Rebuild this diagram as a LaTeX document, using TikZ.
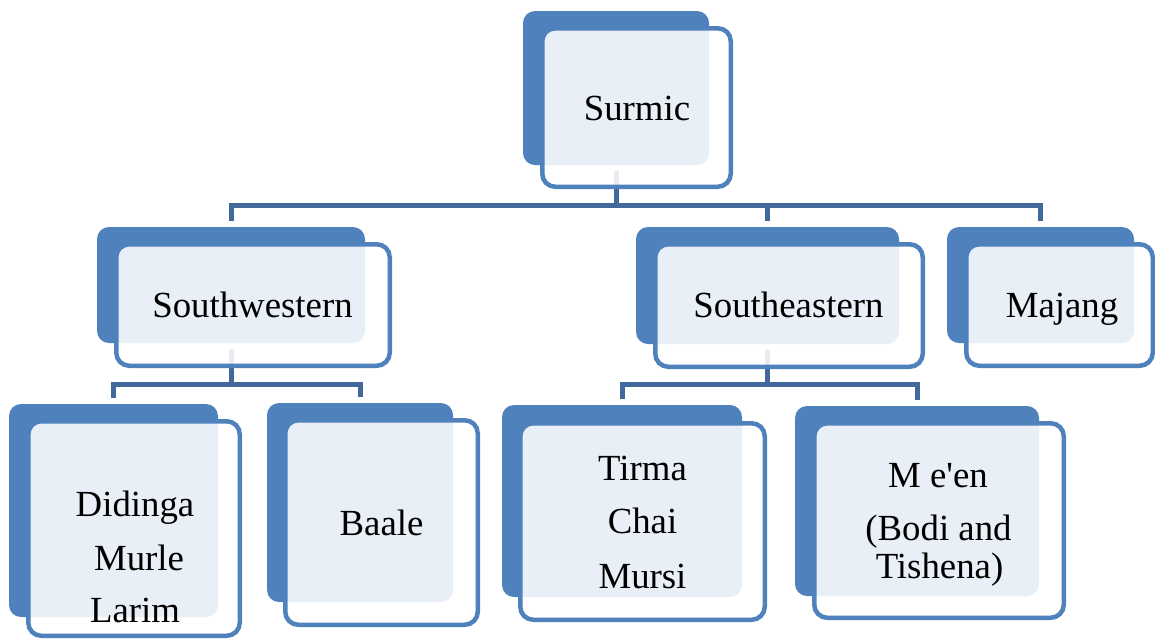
\documentclass[tikz,border=0pt]{standalone}
\usepackage{fontspec}
\newfontfamily\tnr{Liberation Serif}
\definecolor{boxblue}{HTML}{4F81BD}
\definecolor{linkblue}{HTML}{41699B}
\begin{document}
\begin{tikzpicture}[x=1pt,y=-1pt,
  backbox/.style={fill=boxblue, draw=none, rounded corners=12pt, inner sep=0pt},
  frontbox/.style={fill=white, fill opacity=0.88, draw=boxblue, draw opacity=1, line width=4.5pt, rounded corners=13pt, inner sep=0pt},
  lbl/.style={font=\tnr\fontsize{36.8}{44}\selectfont, inner sep=0pt, anchor=base, text opacity=1},
  conn/.style={draw=linkblue, line width=5pt}]
\useasboundingbox (0,0) rectangle (1155,641);
% bus levels
\coordinate (bus1) at (0,205.5);
\coordinate (bus2) at (0,384);
% back boxes
\node[backbox, minimum width=186pt, minimum height=154pt] (surB) at (616,88) {};
\node[backbox, minimum width=268pt, minimum height=116pt] (swB) at (231,285) {};
\node[backbox, minimum width=263pt, minimum height=117pt] (seB) at (767.5,285.5) {};
\node[backbox, minimum width=187pt, minimum height=116pt] (maB) at (1040.5,285) {};
\node[backbox, minimum width=209pt, minimum height=213pt] (diB) at (113.5,510.5) {};
\node[backbox, minimum width=186pt, minimum height=199pt] (baB) at (360,502.5) {};
\node[backbox, minimum width=240pt, minimum height=192pt] (tiB) at (622,501) {};
\node[backbox, minimum width=244pt, minimum height=190pt] (meB) at (917,501) {};
% connectors
\draw[conn] ([yshift=-6pt]surB.south) -- (surB.south |- bus1);
\draw[conn] ([yshift=6pt]swB.north) -- (swB.north |- bus1) -- (maB.north |- bus1) -- ([yshift=6pt]maB.north);
\draw[conn] (seB.north |- bus1) -- ([yshift=6pt]seB.north);
\draw[conn] ([yshift=-6pt]swB.south) -- (swB.south |- bus2);
\draw[conn] ([yshift=6pt]diB.north) -- (diB.north |- bus2) -- (baB.north |- bus2) -- ([yshift=6pt]baB.north);
\draw[conn] ([yshift=-6pt]seB.south) -- (seB.south |- bus2);
\draw[conn] ([yshift=6pt]tiB.north) -- (tiB.north |- bus2) -- (meB.north |- bus2) -- ([yshift=6pt]meB.north);
% front boxes
\node[frontbox, minimum width=188.5pt, minimum height=158.5pt] (sur) at (636.5,107.5) {};
\node[frontbox, minimum width=273.5pt, minimum height=121.5pt] (sw) at (253,305) {};
\node[frontbox, minimum width=267.5pt, minimum height=122.5pt] (se) at (789,305.5) {};
\node[frontbox, minimum width=186.5pt, minimum height=121.5pt] (ma) at (1059.5,305) {};
\node[frontbox, minimum width=211.5pt, minimum height=214.5pt] (di) at (134,528.5) {};
\node[frontbox, minimum width=192.5pt, minimum height=204.5pt] (ba) at (381.5,522.5) {};
\node[frontbox, minimum width=244.5pt, minimum height=196.5pt] (ti) at (642.5,521.5) {};
\node[frontbox, minimum width=249.5pt, minimum height=194.5pt] (me) at (939,520.5) {};
% labels
\node[lbl] (tsur) at (637,120) {Surmic};
\node[lbl] (tsw) at (252.5,317) {Southwestern};
\node[lbl] (tse) at (788.5,317) {Southeastern};
\node[lbl] (tma) at (1062,317) {Majang};
\node[lbl] (tba) at (381.5,535) {Baale};
\node[lbl] (tdi1) at (135,516) {Didinga};
\node[lbl] (tdi2) at (139,570) {Murle};
\node[lbl] (tdi3) at (135,622) {Larim};
\node[lbl] (tti1) at (642.5,480) {Tirma};
\node[lbl] (tti2) at (642.5,533) {Chai};
\node[lbl] (tti3) at (642.5,588) {Mursi};
\node[lbl] (tme1) at (938,487) {M e'en};
\node[lbl] (tme2) at (938.5,540) {(Bodi and};
\node[lbl] (tme3) at (939.5,578) {Tishena)};
\end{tikzpicture}
\end{document}
